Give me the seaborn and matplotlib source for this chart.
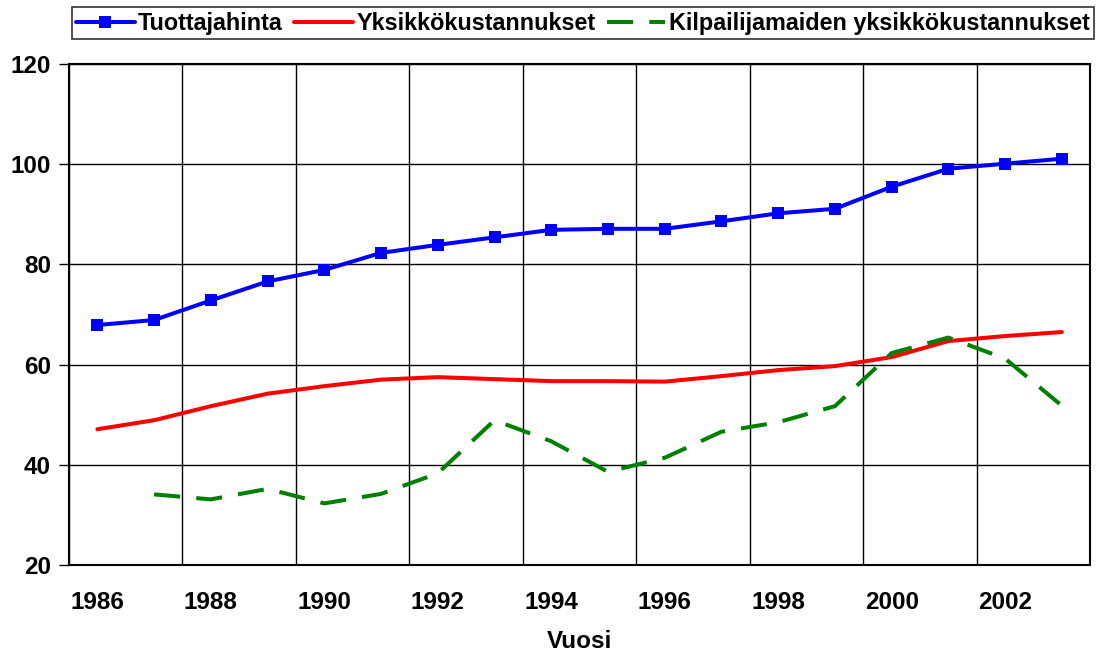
import numpy as np
import pandas as pd
import matplotlib
matplotlib.use("Agg")
import matplotlib.pyplot as plt
import seaborn as sns

# data
years = list(range(1986, 2004))
tuottajahinta = [67.9, 68.9, 72.8, 76.6, 78.9, 82.3, 83.9, 85.4, 86.9, 87.1,
                 87.1, 88.6, 90.2, 91.1, 95.5, 99.1, 100.1, 101.1]
yksikkokust = [47.1, 48.9, 51.7, 54.2, 55.7, 57.0, 57.5, 57.1, 56.7, 56.7,
               56.6, 57.7, 58.9, 59.7, 61.5, 64.7, 65.7, 66.5]
kilpailijat = [np.nan, 34.1, 33.1, 35.2, 32.3, 34.2, 38.3, 48.9, 44.7, 38.6,
               41.4, 46.6, 48.5, 51.7, 62.3, 65.4, 61.2, 51.8]
tick_labels = [str(y) for y in years[::2]]

df = pd.DataFrame({
    "idx": np.arange(len(years)),
    "Tuottajahinta": tuottajahinta,
    "Yksikkökustannukset": yksikkokust,
    "Kilpailijamaiden yksikkökustannukset": kilpailijat,
})

sns.set_style("white")
plt.rcParams["font.family"] = ["Liberation Sans", "DejaVu Sans"]
plt.rcParams["font.weight"] = "bold"
plt.rcParams["text.color"] = "black"
plt.rcParams["axes.labelcolor"] = "black"
plt.rcParams["xtick.color"] = "black"
plt.rcParams["ytick.color"] = "black"

fig = plt.figure(figsize=(11.04, 6.57), dpi=100)
ax = fig.add_axes([0.0625, 0.140, 0.925, 0.7626])

# three series
sns.lineplot(data=df, x="idx", y="Tuottajahinta", ax=ax, color="#0000ff",
             linewidth=2.9, marker="s", markersize=9, markeredgewidth=0,
             label="Tuottajahinta")
sns.lineplot(data=df, x="idx", y="Yksikkökustannukset", ax=ax, color="#ff0000",
             linewidth=2.9, label="Yksikkökustannukset")
sns.lineplot(data=df, x="idx", y="Kilpailijamaiden yksikkökustannukset", ax=ax,
             color="#008000", linewidth=2.9, dashes=(6.5, 4),
             label="Kilpailijamaiden yksikkökustannukset")

# axes
ax.set_xlim(-0.5, len(years) - 0.5)
ax.set_ylim(20, 120)
ax.set_yticks([20, 40, 60, 80, 100, 120])
ax.set_xticks(np.arange(0, len(years), 2))
ax.set_xticklabels(tick_labels)
ax.set_xticks(np.arange(-0.5, len(years), 2), minor=True)
ax.tick_params(axis="x", which="major", length=0, pad=19, labelsize=17.5)
ax.tick_params(axis="x", which="minor", length=7, width=1, color="black", direction="out")
ax.tick_params(axis="y", which="major", length=7, width=1, color="black",
               direction="out", left=True, labelsize=17.5, pad=6)
for lab in ax.get_xticklabels() + ax.get_yticklabels():
    lab.set_fontweight("bold")

ax.grid(True, axis="y", which="major", color="black", linewidth=1)
ax.grid(True, axis="x", which="minor", color="black", linewidth=1)
ax.grid(False, axis="x", which="major")
for s in ax.spines.values():
    s.set_color("black")
    s.set_linewidth(1.5)

ax.set_xlabel("Vuosi", fontsize=17.5, fontweight="bold", labelpad=11)
ax.set_ylabel("")

# legend on top
ax.get_legend().remove()
handles, labels = ax.get_legend_handles_labels()
leg = fig.legend(handles, labels, loc="upper center", ncol=3,
                 bbox_to_anchor=(583 / 1104, 1 - 7 / 657),
                 frameon=True, fancybox=False, edgecolor="black",
                 prop={"size": 16.8, "weight": "bold"},
                 handlelength=2.5, handletextpad=0.15, columnspacing=0.5,
                 borderpad=0.2, borderaxespad=0)
leg.get_frame().set_linewidth(1.2)

fig.savefig("out.png", dpi=100)
